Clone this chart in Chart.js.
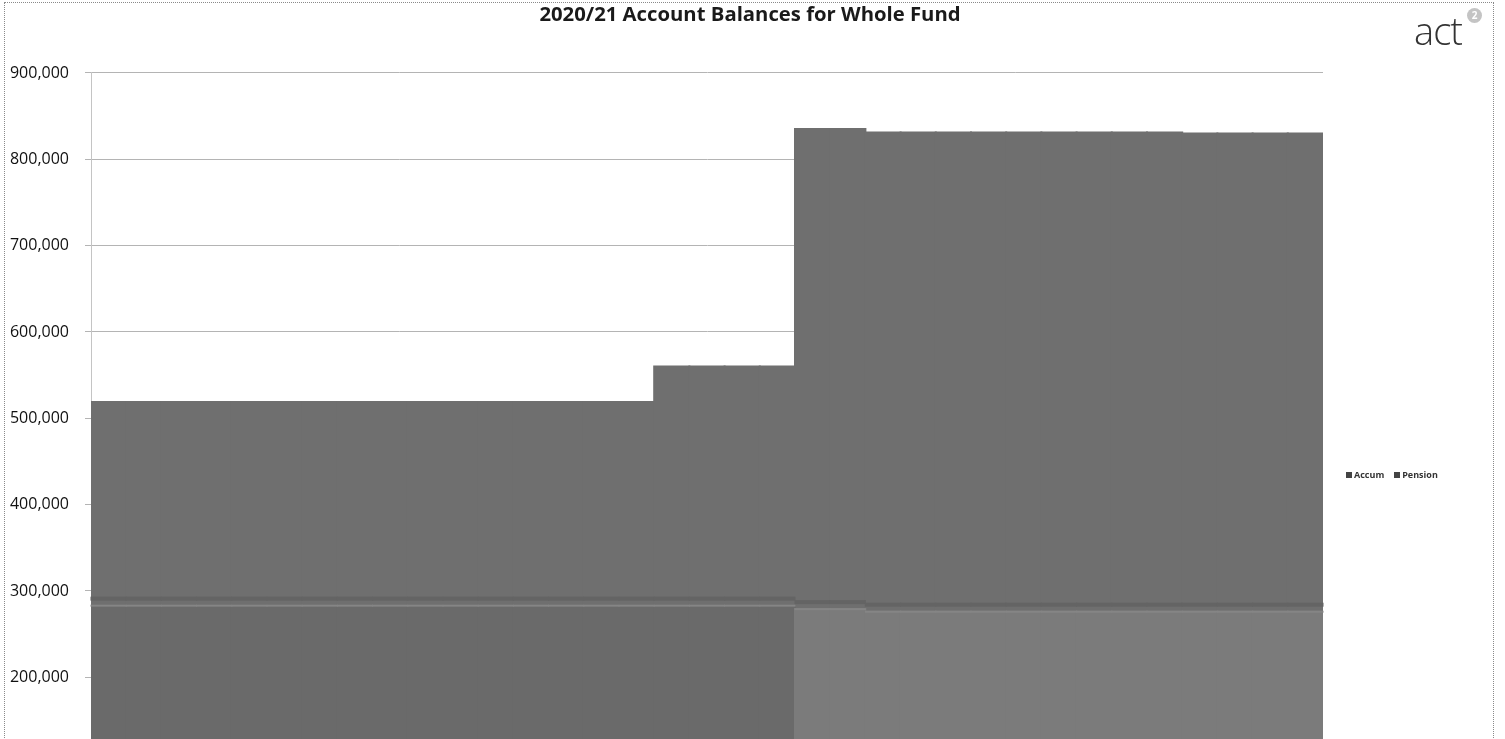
<!DOCTYPE html>
<html>
<head>
<meta charset="utf-8">
<script src="https://cdn.jsdelivr.net/npm/chart.js@4.4.1/dist/chart.umd.min.js"></script>
<style>
  html, body { margin: 0; padding: 0; background: #fff; overflow: hidden; }
  .frame {
    position: absolute; left: 4px; top: 2px; width: 1490px; height: 880px;
    border: 1px dotted #8a8a8a; box-sizing: border-box;
  }
  #fundChart { position: absolute; left: 0; top: 0; }
  .legend {
    position: absolute; left: 1346px; top: 468px;
    font: 700 9px 'Open Sans', sans-serif; color: #333;
  }
  .legend span { margin-right: 10px; white-space: nowrap; }
  .legend i { display: inline-block; width: 6px; height: 6px; background: #444; margin-right: 2px; }
  .logo { position: absolute; left: 1414px; top: 4px; font: 300 38px 'Open Sans', sans-serif; color: #333; letter-spacing: -1px; }
  .logo b {
    position: absolute; left: 53px; top: 4px; width: 15px; height: 15px; border-radius: 50%;
    background: #c4c4c4; color: #fff; font: 700 10px 'Open Sans', sans-serif; text-align: center; line-height: 15px;
    letter-spacing: 0;
  }
</style>
</head>
<body>
<div class="frame">
  <canvas id="fundChart" width="1490" height="880"></canvas>
</div>
<div class="legend"><span><i></i>Accum</span><span><i></i>Pension</span></div>
<div class="logo">act<b>2</b></div>
<script>
const weeks = [
  '03/07/20', '10/07/20', '17/07/20', '24/07/20', '31/07/20', '07/08/20', '14/08/20',
  '21/08/20', '28/08/20', '04/09/20', '11/09/20', '18/09/20', '25/09/20', '02/10/20',
  '09/10/20', '16/10/20', '23/10/20', '30/10/20', '06/11/20', '13/11/20', '20/11/20',
  '27/11/20', '04/12/20', '11/12/20', '18/12/20', '25/12/20', '01/01/21', '08/01/21',
  '15/01/21', '22/01/21', '29/01/21', '05/02/21', '12/02/21', '19/02/21', '26/02/21'
];

const accum = [
  283000, 283000, 283000, 283000, 283000, 283000, 283000, 283000, 283000, 283000,
  283000, 283000, 283000, 283000, 283000, 283000, 283000, 283000, 283000, 283000,
  279000, 279000, 276000, 276000, 276000, 276000, 276000, 276000, 276000, 276000,
  276000, 276000, 276000, 276000, 276000
];

const pension = [
  236000, 236000, 236000, 236000, 236000, 236000, 236000, 236000, 236000, 236000,
  236000, 236000, 236000, 236000, 236000, 236000, 277000, 277000, 277000, 277000,
  556000, 556000, 555000, 555000, 555000, 555000, 555000, 555000, 555000, 555000,
  555000, 554000, 554000, 554000, 554000
];

const yTicks = [0, 100000, 200000, 300000, 400000, 500000, 600000, 700000, 800000, 900000];

// from this week on the accumulation balance prints a lighter shade
const lightFrom = 20;

const ctx = document.getElementById('fundChart').getContext('2d');
new Chart(ctx, {
  type: 'bar',
  data: {
    labels: weeks,
    datasets: [{
      label: 'Accum',
      data: accum,
      backgroundColor: c => c.dataIndex >= lightFrom ? '#7b7b7b' : '#6a6a6a',
      borderWidth: 0,
      inflateAmount: 1,
      categoryPercentage: 1,
      barPercentage: 1
    }, {
      label: 'Pension',
      data: pension,
      backgroundColor: '#6f6f6f',
      borderWidth: 0,
      inflateAmount: 1,
      categoryPercentage: 1,
      barPercentage: 1
    }]
  },
  options: {
    responsive: false,
    animation: false,
    layout: { padding: { top: 0, bottom: 3, left: 0, right: 0 } },
    plugins: {
      legend: { display: false },
      tooltip: { enabled: false },
      title: {
        display: true,
        text: '2020/21 Account Balances for Whole Fund',
        color: '#1a1a1a',
        font: { size: 20.3, weight: 'bold', family: "'Open Sans', sans-serif" },
        padding: { top: 0, bottom: 45.6 }
      }
    },
    scales: {
      x: {
        stacked: true,
        grid: { display: false },
        border: { display: false },
        ticks: { font: { size: 12, family: "'Open Sans', sans-serif" }, color: '#333' },
        afterFit: axis => { axis.height = 30; }
      },
      y: {
        stacked: true,
        min: 0,
        max: 900000,
        afterBuildTicks: axis => { axis.ticks = yTicks.map(v => ({ value: v })); },
        ticks: {
          padding: 16,
          color: '#111',
          font: { size: 16, family: "'Open Sans', sans-serif" },
          callback: v => v.toLocaleString('en-US')
        },
        grid: { color: '#b4b4b4', tickLength: 6 },
        border: { display: true, color: '#c4c4c4' },
        afterFit: axis => { axis.width = 86; }
      },
      // empty axis that keeps the space on the right for the legend and logo
      side: {
        position: 'right',
        display: true,
        grid: { display: false },
        border: { display: false },
        ticks: { display: false },
        afterFit: axis => { axis.width = 172; }
      }
    }
  },
  plugins: [{
    // thin shade lines along the join between the two balances
    id: 'joinLines',
    afterDatasetsDraw(chart) {
      const c = chart.ctx;
      const top = chart.getDatasetMeta(0).data;
      c.save();
      top.forEach(bar => {
        const half = bar.width / 2 + 0.5;
        c.fillStyle = '#646464';
        c.fillRect(bar.x - half, bar.y - 9, half * 2, 4);
        c.fillStyle = '#858585';
        c.fillRect(bar.x - half, bar.y - 1, half * 2, 2);
      });
      c.restore();
    }
  }]
});
</script>
</body>
</html>
